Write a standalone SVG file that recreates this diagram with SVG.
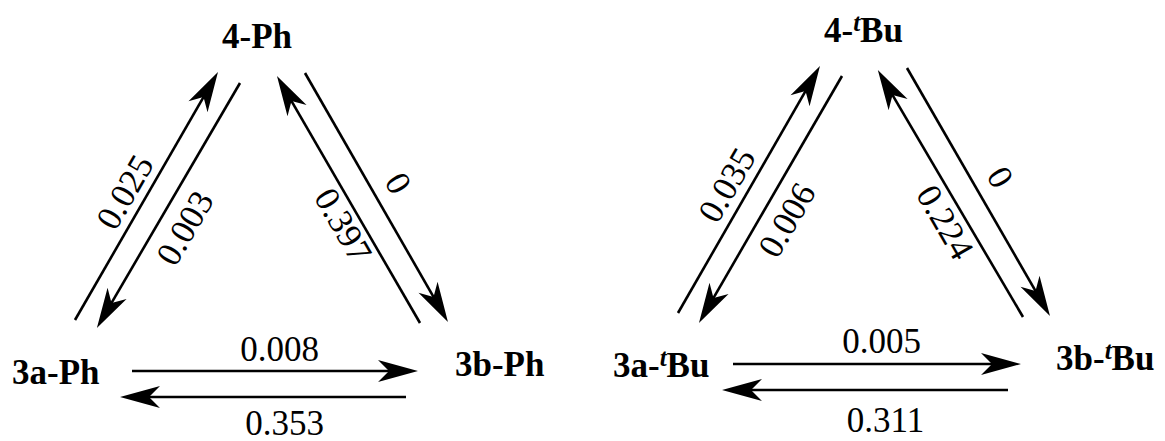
<svg xmlns="http://www.w3.org/2000/svg" width="1165" height="441" viewBox="0 0 1165 441">
<style>
text{font-family:'Liberation Serif','Times New Roman','DejaVu Serif',serif;font-size:35px;fill:#000}
.lbl{font-weight:bold}
.num{text-anchor:middle}
.sup{font-style:italic;font-size:25px}
.arr{stroke:#000;stroke-width:2.6;fill:none;marker-end:url(#head)}
</style>
<defs>
<marker id="head" markerUnits="userSpaceOnUse" viewBox="-42 -12 44 24" refX="-25" refY="0" markerWidth="44" markerHeight="24" orient="auto" overflow="visible">
<path d="M0,0 L-40,-11 L-29,0 L-40,11 Z" fill="#000"/>
</marker>
</defs>
<rect width="1165" height="441" fill="#fff"/>
<g id="connectors">
<line class="arr" x1="75" y1="320" x2="205.5" y2="93.65"/>
<line class="arr" x1="240" y1="83" x2="109.5" y2="306.35"/>
<line class="arr" x1="420" y1="323" x2="289.5" y2="97.65"/>
<line class="arr" x1="305" y1="73" x2="435.5" y2="300.35"/>
<line class="arr" x1="132" y1="371" x2="393" y2="371"/>
<line class="arr" x1="406" y1="397" x2="145" y2="397"/>
<line class="arr" x1="678" y1="313" x2="807.5" y2="87.65"/>
<line class="arr" x1="842" y1="76" x2="711.5" y2="301.35"/>
<line class="arr" x1="1023" y1="317" x2="890.5" y2="91.65"/>
<line class="arr" x1="907" y1="68" x2="1037.5" y2="294.35"/>
<line class="arr" x1="733" y1="364" x2="996" y2="364"/>
<line class="arr" x1="1008" y1="390" x2="747" y2="390"/>
</g>
<g id="rates">
<text class="num" font-family="Liberation Serif" transform="translate(135,198) rotate(-60)">0.025</text>
<text class="num" font-family="Liberation Serif" transform="translate(195,234) rotate(-60)">0.003</text>
<text class="num" font-family="Liberation Serif" transform="translate(333,231) rotate(60)">0.397</text>
<text class="num" font-family="Liberation Serif" transform="translate(388,189) rotate(60)">0</text>
<text class="num" font-family="Liberation Serif" x="279.5" y="361">0.008</text>
<text class="num" font-family="Liberation Serif" x="284.5" y="435">0.353</text>
<text class="num" font-family="Liberation Serif" transform="translate(737,191) rotate(-60)">0.035</text>
<text class="num" font-family="Liberation Serif" transform="translate(797,226) rotate(-60)">0.006</text>
<text class="num" font-family="Liberation Serif" transform="translate(935,228) rotate(60)">0.224</text>
<text class="num" font-family="Liberation Serif" transform="translate(990,183) rotate(60)">0</text>
<text class="num" font-family="Liberation Serif" x="881.5" y="353">0.005</text>
<text class="num" font-family="Liberation Serif" x="885.5" y="432">0.311</text>
</g>
<g id="node-4-Ph"><text class="lbl" x="222" y="48">4-Ph</text></g>
<g id="node-3a-Ph"><text class="lbl" x="12" y="384">3a-Ph</text></g>
<g id="node-3b-Ph"><text class="lbl" x="455" y="376">3b-Ph</text></g>
<g id="node-4-tBu"><text class="lbl" x="824" y="42">4-<tspan class="sup" dy="-11">t</tspan><tspan dy="11">Bu</tspan></text></g>
<g id="node-3a-tBu"><text class="lbl" x="613" y="377">3a-<tspan class="sup" dy="-11">t</tspan><tspan dy="11">Bu</tspan></text></g>
<g id="node-3b-tBu"><text class="lbl" x="1056" y="370">3b-<tspan class="sup" dy="-11">t</tspan><tspan dy="11">Bu</tspan></text></g>
</svg>
